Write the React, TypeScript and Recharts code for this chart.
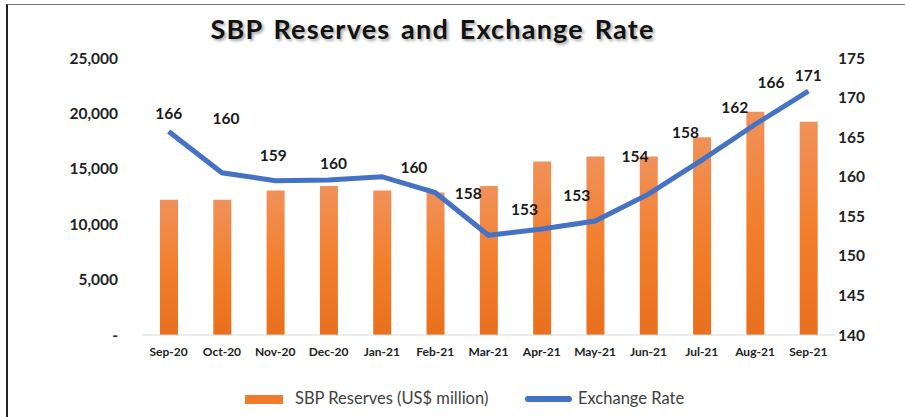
import React from "react";
import { ComposedChart, Bar, Line, XAxis, YAxis, LabelList } from "recharts";

const months = ["Sep-20", "Oct-20", "Nov-20", "Dec-20", "Jan-21", "Feb-21", "Mar-21", "Apr-21", "May-21", "Jun-21", "Jul-21", "Aug-21", "Sep-21"];
const reserves = [12200, 12200, 13050, 13450, 13050, 12850, 13450, 15650, 16100, 16100, 17850, 20150, 19250];
const exchangeRate = [165.7, 160.5, 159.5, 159.6, 160.0, 158.0, 152.6, 153.4, 154.4, 157.8, 162.1, 166.6, 170.8];
const rateLabels = ["166", "160", "159", "160", "160", "158", "153", "153", "154", "158", "162", "166", "171"];
const leftTicks = [0, 5000, 10000, 15000, 20000, 25000];
const rightTicks = [140, 145, 150, 155, 160, 165, 170, 175];
const seriesNames = ["SBP Reserves (US$ million)", "Exchange Rate"];

// label placement offsets (styling, relative to each point)
const labelDx = [0, 4, -2, 5, 32, 33, 36, 35, 40, 37, 33, 16, 0];
const labelDy = [-19, -55, -26, -17, -10, 0, -26, -34, -65, -62, -53, -42, -16];

const data = months.map((m, i) => ({ month: m, reserves: reserves[i], rate: exchangeRate[i], label: rateLabels[i] }));

const FONT = "Lato, 'Open Sans', sans-serif";

const RateLabel = (props: any) => {
  const { x, y, index } = props;
  return (
    <text x={x + labelDx[index]} y={y + labelDy[index]} textAnchor="middle" dominantBaseline="central" fontFamily={FONT} fontWeight={700} fontSize={15.5} fill="#1a1a1a">
      {rateLabels[index]}
    </text>
  );
};

export default function App() {
  return (
    <div style={{ position: "absolute", left: 0, top: 0, width: 905, height: 417, background: "#fff", overflow: "hidden" }}>
      <div style={{ position: "absolute", left: 6, top: 4, width: 899, height: 420, borderLeft: "2px solid #222", borderTop: "1.5px solid #777", boxSizing: "border-box" }} />
      <div
        style={{
          position: "absolute",
          left: 0,
          width: 865,
          top: 12,
          textAlign: "center",
          fontFamily: FONT,
          fontWeight: 700,
          fontSize: 27,
          letterSpacing: 1.2,
          wordSpacing: 3,
          color: "#111",
          textShadow: "2px 2px 3px rgba(0,0,0,0.35)",
        }}
      >
        SBP Reserves and Exchange Rate
      </div>
      <div style={{ position: "absolute", left: 0, top: 0 }}>
        <ComposedChart width={905} height={417} data={data} margin={{ top: 58, right: 10, bottom: 52, left: 82 }}>
          <defs>
            <linearGradient id="barGrad" x1="0" y1="0" x2="0" y2="1">
              <stop offset="0%" stopColor="#F0915A" />
              <stop offset="50%" stopColor="#F27F2C" />
              <stop offset="100%" stopColor="#E8701E" />
            </linearGradient>
          </defs>
          <XAxis
            dataKey="month"
            tickLine={false}
            axisLine={{ stroke: "#d9d9d9" }}
            tickSize={0}
            tickMargin={12}
            height={30}
            interval={0}
            tick={{ fontFamily: FONT, fontWeight: 700, fontSize: 12, fill: "#222" }}
          />
          <YAxis
            yAxisId="left"
            domain={[0, 25000]}
            ticks={leftTicks}
            width={60}
            tickLine={false}
            axisLine={false}
            tickSize={0}
            tickMargin={24}
            tickFormatter={(v: number) => (v === 0 ? "-" : v.toLocaleString("en-US"))}
            tick={{ fontFamily: FONT, fontWeight: 700, fontSize: 15.5, fill: "#222" }}
          />
          <YAxis
            yAxisId="right"
            orientation="right"
            domain={[140, 175]}
            ticks={rightTicks}
            width={60}
            tickLine={false}
            axisLine={false}
            tickSize={0}
            tickMargin={3}
            tick={{ fontFamily: FONT, fontWeight: 700, fontSize: 15.5, fill: "#222" }}
          />
          <Bar yAxisId="left" dataKey="reserves" name={seriesNames[0]} fill="url(#barGrad)" barSize={18} isAnimationActive={false} />
          <Line yAxisId="right" dataKey="rate" name={seriesNames[1]} stroke="#4472C4" strokeWidth={5} dot={false} isAnimationActive={false}>
            <LabelList dataKey="label" content={<RateLabel />} />
          </Line>
        </ComposedChart>
      </div>
      <div style={{ position: "absolute", left: 0, top: 388, width: 905, height: 22, fontFamily: FONT, fontSize: 16.5, color: "#404040" }}>
        <div style={{ position: "absolute", left: 245, top: 7, width: 38, height: 9, background: "#F07B2A" }} />
        <div style={{ position: "absolute", left: 295, top: 0, whiteSpace: "nowrap" }}>{seriesNames[0]}</div>
        <div style={{ position: "absolute", left: 525, top: 8, width: 47, height: 6, background: "#4472C4", borderRadius: 3 }} />
        <div style={{ position: "absolute", left: 578, top: 0, whiteSpace: "nowrap" }}>{seriesNames[1]}</div>
      </div>
    </div>
  );
}
